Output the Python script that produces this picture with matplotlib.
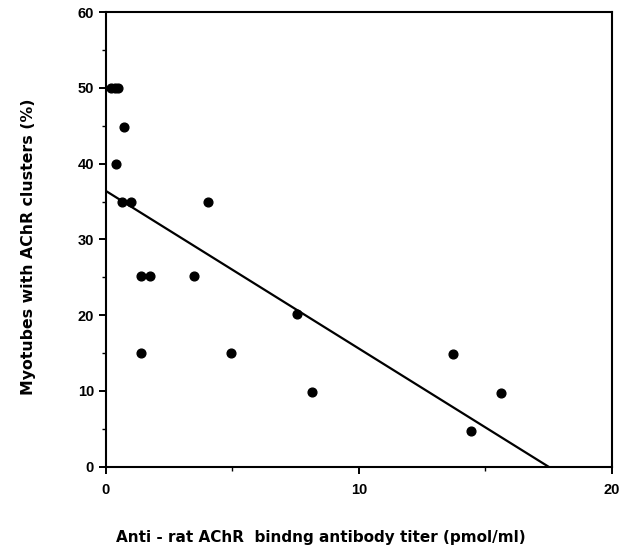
import numpy as np
import matplotlib.pyplot as plt

# data
titer = [0.2, 0.35, 0.5, 0.71, 0.42, 0.62, 0.99, 4.05, 1.38, 1.74, 3.48,
         1.38, 4.94, 7.56, 8.15, 13.74, 15.62, 14.45]
clusters = [50, 50, 50, 44.9, 40, 35, 35, 35, 25.2, 25.2, 25.2,
            15, 15, 20.1, 9.8, 14.9, 9.7, 4.7]

# regression line (intercept, slope) as drawn
intercept = 36.4
slope = -2.08
fit_x = np.array([0, -intercept / slope])
fit_y = intercept + slope * fit_x

plt.rcParams['font.family'] = ['Liberation Sans', 'DejaVu Sans']
plt.rcParams['font.weight'] = 'bold'

fig = plt.figure(figsize=(6.3, 5.51), dpi=100)
ax = fig.add_axes([0.168, 0.153, 0.803, 0.825])

ax.plot(titer, clusters, 'o', color='black', markersize=6.3)
ax.plot(fit_x, fit_y, color='black', linewidth=1.6)

ax.set_xlim(0, 20)
ax.set_ylim(0, 60)
ax.set_xticks([0, 10, 20])
ax.set_xticks([5, 15], minor=True)
ax.set_yticks(range(0, 61, 10))
ax.set_yticks(range(5, 60, 10), minor=True)
ax.tick_params(which='major', direction='out', length=5, width=1.4,
               labelsize=10.5)
ax.tick_params(axis='x', which='major', pad=7)
ax.tick_params(axis='y', which='major', pad=3.5)
ax.tick_params(which='minor', direction='out', length=3, width=1.0)
for lab in ax.get_xticklabels() + ax.get_yticklabels():
    lab.set_fontweight('bold')
for sp in ax.spines.values():
    sp.set_linewidth(1.5)

fig.text(0.045, 0.553, 'Myotubes with AChR clusters (%)', rotation=90,
         ha='center', va='center', fontsize=11.3, fontweight='bold',
         family='DejaVu Sans')
fig.text(0.184, 0.025, 'Anti - rat AChR  bindng antibody titer (pmol/ml)',
         ha='left', va='center', fontsize=11, fontweight='bold',
         family='DejaVu Sans')

fig.savefig('out.png', dpi=100)
